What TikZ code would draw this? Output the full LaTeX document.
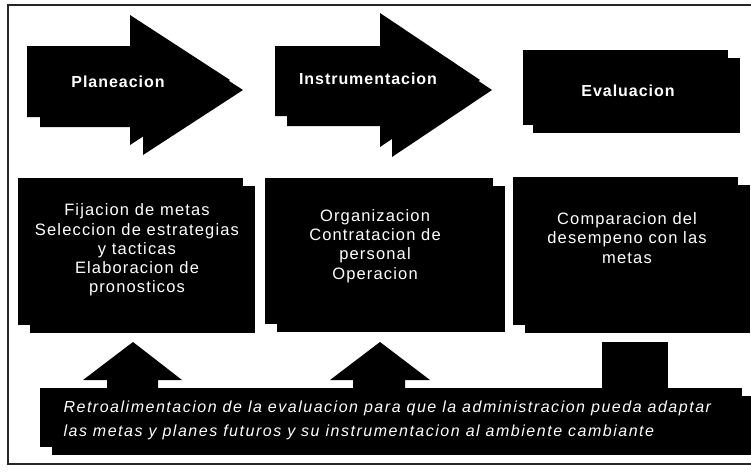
\documentclass[tikz,border=0pt]{standalone}
\usepackage{fontspec}
\setmainfont{Liberation Sans}
\newfontfamily\headfont[LetterSpace=6]{Liberation Sans}
\newfontfamily\bodyfont[LetterSpace=7]{Liberation Sans}
\newfontfamily\notefont[LetterSpace=9.5]{Liberation Sans}
\usetikzlibrary{shadows}
\begin{document}
\begin{tikzpicture}[x=1pt,y=-1pt,
  ink/.style={fill=black,draw=none},
  panel/.style={ink,inner sep=0pt,outer sep=0pt,
    drop shadow={shadow xshift=12pt,shadow yshift=-8pt,opacity=1,fill=black}},
  headtxt/.style={text=white,font=\headfont\bfseries\fontsize{16}{19}\selectfont},
  bodytxt/.style={text=white,align=center,font=\bodyfont\fontsize{16.5}{19.2}\selectfont},
  notetxt/.style={text=white,align=left,font=\notefont\itshape\fontsize{16}{24}\selectfont}]
\useasboundingbox (0,0) rectangle (751,472);
\fill[white] (0,0) rectangle (751,472);

% outer frame
\draw[line width=1.6pt,black!85] (751,5) -- (8,5) -- (8,464) -- (751,464);

% stage arrows (each drawn with an offset copy as its shadow)
\foreach \dx/\dy in {13/10,0/0}
  \fill[ink,shift={(\dx,\dy)}] (27,46) -- (130,46) -- (130,15) -- (230,80)
     -- (130,145) -- (130,117) -- (27,117) -- cycle;
\foreach \dx/\dy in {12/10,0/0}
  \fill[ink,shift={(\dx,\dy)}] (275,46) -- (380,46) -- (380,13) -- (480,80)
     -- (380,147) -- (380,116) -- (275,116) -- cycle;

% evaluation block
\node[panel,minimum width=205pt,minimum height=75pt,
  drop shadow={shadow xshift=10pt,shadow yshift=-8pt,opacity=1,fill=black}]
  (evalbox) at (625.5,87.5) {};

\node[headtxt] (plan) at (118,82) {Planeacion};
\node[headtxt] (instr) at (368,79) {Instrumentacion};
\node[headtxt] (evalt) at (628,91) {Evaluacion};

% activity panels
\node[panel,minimum width=225pt,minimum height=147pt] (box1) at (130.5,251.5) {};
\node[panel,minimum width=228pt,minimum height=146pt] (box2) at (379,251) {};
\node[panel,minimum width=225pt,minimum height=148pt] (box3) at (625.5,251) {};

\node[bodytxt] (b1) at (137,250) {Fijacion de metas\\Seleccion de estrategias\\y tacticas\\Elaboracion de\\pronosticos};
\node[bodytxt] (b2) at (375,246) {Organizacion\\Contratacion de\\personal\\Operacion};
\node[bodytxt] (b3) at (627,238) {Comparacion del\\desempeno con las\\metas};

% feedback band
\node[panel,minimum width=702pt,minimum height=59pt] (fb) at (391,417.5) {};

% feedback arrows rising from the band
\fill[ink] (133,342) -- (182,380) -- (158,380) -- (158,390) -- (107,390)
   -- (107,380) -- (83,380) -- cycle;
\fill[ink] (380,342) -- (430,380) -- (405,380) -- (405,390) -- (353,390)
   -- (353,380) -- (330,380) -- cycle;
\fill[ink] (602,342) rectangle (668,392);

\node[notetxt,anchor=west] (note) at (60,420)
  {Retroalimentacion de la evaluacion para que la administracion pueda adaptar\\las metas y planes futuros y su instrumentacion al ambiente cambiante};
\end{tikzpicture}
\end{document}
